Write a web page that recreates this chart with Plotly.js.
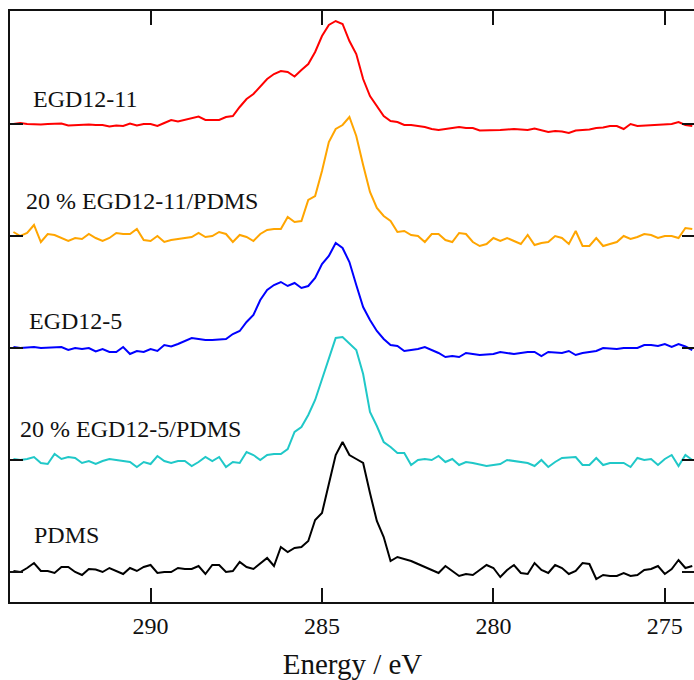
<!DOCTYPE html>
<html>
<head>
<meta charset="utf-8">
<script src="https://cdn.plot.ly/plotly-3.0.1.min.js"></script>
<style>
html, body { margin: 0; padding: 0; overflow: hidden; background: #fff; }
#chart { width: 700px; height: 680px; }
</style>
</head>
<body>
<div id="chart"></div>
<script>
// Binding energy (eV)
const energy = [
294.0,293.8,293.6,293.4,293.2,293.0,292.8,292.6,292.4,292.2,
292.0,291.8,291.6,291.4,291.2,291.0,290.8,290.6,290.4,290.2,
290.0,289.8,289.6,289.4,289.2,289.0,288.8,288.6,288.4,288.2,
288.0,287.8,287.6,287.4,287.2,287.0,286.8,286.6,286.4,286.2,
286.0,285.8,285.6,285.4,285.2,285.0,284.8,284.6,284.4,284.2,
284.0,283.8,283.6,283.4,283.2,283.0,282.8,282.6,282.4,282.2,
282.0,281.8,281.6,281.4,281.2,281.0,280.8,280.6,280.4,280.2,
280.0,279.8,279.6,279.4,279.2,279.0,278.8,278.6,278.4,278.2,
278.0,277.8,277.6,277.4,277.2,277.0,276.8,276.6,276.4,276.2,
276.0,275.8,275.6,275.4,275.2,275.0,274.8,274.6,274.4,274.2
];

// Intensities (a.u., relative to each spectrum's own baseline)
const egd12_11 = [
0,1,0,-0.5,-0.5,0,0,0.5,-1.5,-1,
-1,-0.5,-1,-1,-2.5,-1.5,-2,0.5,-1.5,0,
0,-2,1,4,2.5,4,5.5,7.5,4,4,
4,7,8,17,25,30,38,45,50,53,
52,47.5,54,60,72,88,99,103,100,83,
70,45,28,18,8,3,2,-1,-1,-2,
-3,-5,-6,-5,-4,-3,-4,-4,-6.5,-6.5,
-6,-6,-5.5,-5,-5.5,-6,-4.5,-6.5,-8,-7,
-7.5,-9,-6.5,-6,-5.5,-4,-3.5,-2,-2,-5,
0,-2,-1.5,-1,-0.5,0,0,2,-1,-2
];
const egd12_11_pdms = [
4,0,3,11,-6,2,1,-2,-5,-2,
-3,2,-2,-5,-2,3,2,2,7,-4,
-5,0,-6,-4,-3,-2,-1,3,-1,0,
4,2,-6,1,-1,-5,2,6,7,7,
19,14,15,36,40,65,94,107,111,119,
100,71,44,28,20,15,4,5,1,0,
-6,2,2,-4,-6,3,2,-6,-10,-8,
-2,-5,-2,-5,-8,1,-9,-7,-6,0,
-2,-8,5,-10,-10,-2,-10,-8,-6,0,
-3,-1,2,1,-2,0,0,-2,8,7
];
const egd12_5 = [
1,0,0.5,1,0,0.5,1,1,-2,0,
-1,0,-3.5,-1,-4,-4,1,-6,-3,-4,
-1,-3,3,1.5,4,7,10,9,8,8,
8.5,9,14,17,26,33,48,58,63,66,
62,65,60,62,70,84,92,105,100,86,
63,41,28,17,9,3,2,-3,-2,-1,
1,-2,-5,-9,-8,-9,-5,-6,-7,-6.5,
-6,-4,-5,-6,-5,-4,-4,-8,-4,-4.5,
-5,-3,-7,-5,-4,-3,0,-0.5,-1,0,
0,0,3,3,2,4,1,4,1.5,-2
];
const egd12_5_pdms = [
1,0,1,3,-3,-4,6,1,3,2,
-3,-1,-4,-1,1,0,-1,-2,-7,-2,
-4,4,-1,-3,-1,-1,-6,-2,3,-1,
3,-7,-2,-3,8,5,0,5,6,6,
11,28,33,45,60,80,101,122,123,117,
110,86,48,34,18,13,7,7,-5,0,
1,0,4,-2,1,-5,-2,-3,-4.5,-6,
-5,-4,0,-1,-2,-3,-6,0,-7,-2,
2,2.5,3,-5,-5,2,-5,-3,-3,-3,
-7,2,0,1,-5,1,5,-6,5,0
];
const pdms = [
1,0,4,9,1,1,-1,5,5,0,
-3,3,2.5,0,4,1,-2,4,1,5,
7,-1,0,0,4,3,3,6,-2,7,
7,0,1,10,5,3,9,14,6,25,
20,24,25,31,52,59,88,117,130,117,
113,109,79,51,35,11,15,13,11,8,
5,2,-1,6,1,-4,-2,-3,2,7,
4,-5,2,7,-1,-2,9,2,-1,7,
4,-2,1,9,8,-7,-3,-4,-4,-1,
-4,-3,2,3,6,-2,3,12,4,6
];

const seriesNames = ["EGD12-11", "20 % EGD12-11/PDMS", "EGD12-5", "20 % EGD12-5/PDMS", "PDMS"];
const seriesData = [egd12_11, egd12_11_pdms, egd12_5, egd12_5_pdms, pdms];
const seriesColors = ["#ff0000", "#ffa500", "#0000ff", "#20c8c8", "#000000"];
const stackStep = 112;           // vertical offset between stacked spectra
const stackOrder = [4, 3, 2, 1, 0];

const traces = seriesData.map((vals, k) => ({
  type: "scatter",
  mode: "lines",
  name: seriesNames[k],
  x: energy,
  y: vals.map(v => v + stackOrder[k] * stackStep),
  line: { color: seriesColors[k], width: 2 },
  hoverinfo: "skip"
}));

const serif = "Liberation Serif, Times New Roman, serif";
const labelPos = [
  { x: 293.5, y: 473.5 },
  { x: 293.68, y: 371 },
  { x: 293.6, y: 251.5 },
  { x: 293.86, y: 143.5 },
  { x: 293.45, y: 37 }
];
const annotations = seriesNames.map((t, k) => ({
  text: t, x: labelPos[k].x, y: labelPos[k].y, xref: "x", yref: "y",
  xanchor: "left", yanchor: "middle", showarrow: false,
  font: { family: serif, size: 24, color: "#111" }
}));

const layout = {
  width: 700, height: 680,
  margin: { l: 10, r: 5, t: 11, b: 78 },
  paper_bgcolor: "#ffffff",
  plot_bgcolor: "#ffffff",
  showlegend: false,
  font: { family: serif, color: "#111" },
  xaxis: {
    range: [294.1, 274.12],
    tickvals: [290, 285, 280, 275],
    ticktext: ["290", "285", "280", "275"],
    ticks: "inside", ticklen: 14, tickwidth: 2, tickcolor: "#111",
    showline: true, linewidth: 2, linecolor: "#111", mirror: "ticks",
    showgrid: false, zeroline: false,
    tickfont: { family: serif, size: 24, color: "#111" },
    ticklabelstandoff: 1,
    title: { text: "Energy / eV", font: { family: serif, size: 29, color: "#111" }, standoff: 22 }
  },
  yaxis: {
    range: [-30, 561],
    tickvals: [0, 112, 224, 336, 448, 560],
    ticks: "inside", ticklen: 13, tickwidth: 2, tickcolor: "#111",
    showticklabels: false,
    showline: true, linewidth: 2, linecolor: "#111", mirror: "ticks",
    showgrid: false, zeroline: false
  },
  annotations: annotations
};

Plotly.newPlot("chart", traces, layout, { displayModeBar: false, staticPlot: true });
</script>
</body>
</html>
